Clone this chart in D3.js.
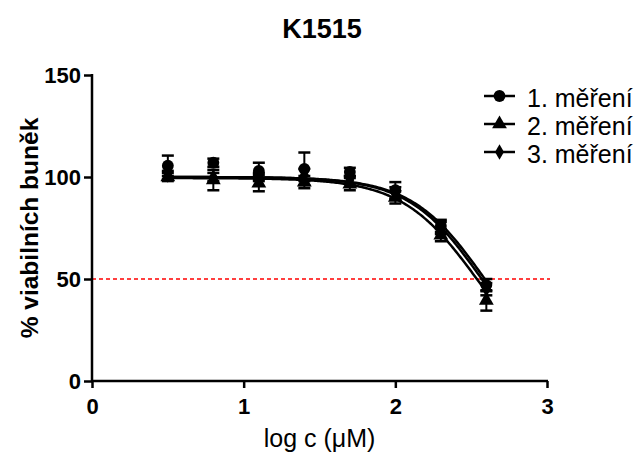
<!DOCTYPE html>
<html>
<head>
<meta charset="utf-8">
<script src="https://cdn.jsdelivr.net/npm/d3@7"></script>
<style>
  body { margin: 0; background: #fff; }
  svg { display: block; font-family: "Liberation Sans", Arial, sans-serif; }
</style>
</head>
<body>
<div id="chart"></div>
<script>
// x positions (log c)
const logC = [0.5, 0.8, 1.1, 1.4, 1.7, 2.0, 2.3, 2.6];

// mean values per measurement
const seriesNames = ["1. měření", "2. měření", "3. měření"];
const mean1 = [105.5, 107, 103, 104, 102.5, 93.5, 76, 47];
const mean2 = [100, 98.5, 97, 97.5, 96.5, 90, 71.5, 39.5];
const mean3 = [101, 100, 100, 101, 98.5, 92, 75, 45];
const err1 = [5, 2, 4, 8, 2, 4, 3, 3];
const err2 = [2, 5, 4, 3, 3, 3, 3, 5];
const err3 = [2, 2, 2, 3, 2, 3, 3, 3];

// fitted dose-response parameters (top, logIC50, hill)
const fitTop = [100, 99.5, 100];
const fitLogIC50 = [2.59, 2.54, 2.57];
const fitHill = [1.8, 1.75, 1.8];

const xTicks = [0, 1, 2, 3];
const yTicks = [0, 50, 100, 150];
const threshold = 50;

const width = 642, height = 455;
const margin = { left: 92, right: 95, top: 75, bottom: 74 };

const svg = d3.select("#chart").append("svg")
  .attr("width", width).attr("height", height);

const x = d3.scaleLinear().domain([0, 3]).range([margin.left, width - margin.right]);
const y = d3.scaleLinear().domain([0, 150]).range([height - margin.bottom, margin.top]);

// title
svg.append("text")
  .attr("x", 322).attr("y", 38)
  .attr("text-anchor", "middle")
  .attr("font-size", 27).attr("font-weight", "bold")
  .text("K1515");

// 50% line
svg.append("line")
  .attr("x1", x(0)).attr("x2", x(3) + 3)
  .attr("y1", y(threshold)).attr("y2", y(threshold))
  .attr("stroke", "#f00").attr("stroke-width", 1.3)
  .attr("stroke-dasharray", "4,3");

// axes
const xAxis = svg.append("g")
  .attr("transform", `translate(0,${y(0)})`)
  .call(d3.axisBottom(x).tickValues(xTicks).tickFormat(d3.format("d")).tickSizeOuter(0).tickSize(7).tickPadding(10));
const yAxis = svg.append("g")
  .attr("transform", `translate(${x(0)},0)`)
  .call(d3.axisLeft(y).tickValues(yTicks).tickSizeOuter(0).tickSize(8).tickPadding(3));

[xAxis, yAxis].forEach(g => {
  g.select(".domain").attr("stroke", "#000").attr("stroke-width", 2.5);
  g.selectAll(".tick line").attr("stroke", "#000").attr("stroke-width", 2.5);
  g.selectAll(".tick text")
    .attr("fill", "#000")
    .attr("font-size", 22).attr("font-weight", "bold")
    .attr("font-family", "Liberation Sans, Arial, sans-serif");
});
xAxis.select(".domain").attr("d", `M${x(0) - 1},0H${x(3) + 1}`);
yAxis.select(".domain").attr("d", `M0,${y(0) + 1}V${y(150) - 1}`);

// axis labels
svg.append("text")
  .attr("x", x(1.5)).attr("y", 447)
  .attr("text-anchor", "middle")
  .attr("font-size", 25)
  .text("log c (μM)");

svg.append("text")
  .attr("transform", `translate(38,${y(75)}) rotate(-90)`)
  .attr("text-anchor", "middle")
  .attr("font-size", 24.5).attr("font-weight", "bold")
  .text("% viabilních buněk");

// symbols
const symbols = [d3.symbolCircle, d3.symbolTriangle, d3.symbolDiamond];
const symSizes = [110, 95, 70];
const means = [mean1, mean2, mean3];
const errs = [err1, err2, err3];

// fitted curves
const curveX = d3.range(0.5, 2.6001, 0.01);
seriesNames.forEach((name, i) => {
  const pts = curveX.map(v => [v, fitTop[i] / (1 + Math.pow(10, fitHill[i] * (v - fitLogIC50[i])))]);
  svg.append("path")
    .datum(pts)
    .attr("fill", "none")
    .attr("stroke", "#000")
    .attr("stroke-width", 2.5)
    .attr("d", d3.line().x(d => x(d[0])).y(d => y(d[1])));
});

// error bars and markers
const cap = 6;
seriesNames.forEach((name, i) => {
  const g = svg.append("g");
  logC.forEach((v, j) => {
    const cx = x(v), m = means[i][j], e = errs[i][j];
    g.append("line")
      .attr("x1", cx).attr("x2", cx)
      .attr("y1", y(m - e)).attr("y2", y(m + e))
      .attr("stroke", "#000").attr("stroke-width", 2);
    [m - e, m + e].forEach(t => {
      g.append("line")
        .attr("x1", cx - cap).attr("x2", cx + cap)
        .attr("y1", y(t)).attr("y2", y(t))
        .attr("stroke", "#000").attr("stroke-width", 2.5);
    });
    g.append("path")
      .attr("transform", `translate(${cx},${y(m)})`)
      .attr("d", d3.symbol(symbols[i], symSizes[i])())
      .attr("fill", "#000");
  });
});

// legend
const legend = svg.append("g");
seriesNames.forEach((name, i) => {
  const ly = 96 + i * 28;
  legend.append("line")
    .attr("x1", 484).attr("x2", 515)
    .attr("y1", ly).attr("y2", ly)
    .attr("stroke", "#000").attr("stroke-width", 2.5);
  legend.append("path")
    .attr("transform", `translate(499.5,${ly})`)
    .attr("d", d3.symbol(symbols[i], symSizes[i])())
    .attr("fill", "#000");
  legend.append("text")
    .attr("x", 527).attr("y", ly + 10.5)
    .attr("font-size", 25)
    .text(name);
});
</script>
</body>
</html>
